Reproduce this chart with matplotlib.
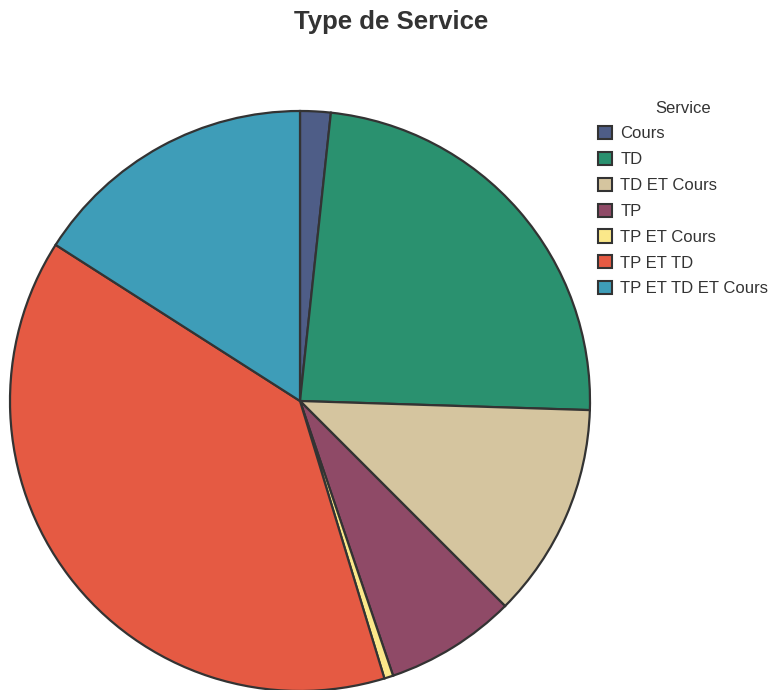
import matplotlib.pyplot as plt
from matplotlib.patches import Patch

labels = ['Cours', 'TD', 'TD ET Cours', 'TP', 'TP ET Cours', 'TP ET TD', 'TP ET TD ET Cours']
values = [1.7, 23.8, 12.0, 7.3, 0.5, 38.75, 15.95]
colors = ['#4e5d87', '#2a916f', '#d5c59f', '#8f4a67', '#fbe88a', '#e55a43', '#3e9db8']

plt.rcParams['font.family'] = ['Liberation Sans', 'DejaVu Sans']

fig = plt.figure(figsize=(7.75, 6.9), dpi=100)
W, H = 775, 690
cx, cy, r = 300, 401, 290
ax = fig.add_axes([(cx - r) / W, (H - cy - r) / H, 2 * r / W, 2 * r / H])
ax.pie(values, colors=colors, startangle=90, counterclock=False, radius=1,
       wedgeprops=dict(edgecolor='#333333', linewidth=1.6))
ax.set_xlim(-1, 1)
ax.set_ylim(-1, 1)
ax.set_aspect('equal')
ax.axis('off')

fig.text(391 / W, 1 - 22 / H, 'Type de Service', ha='center', va='center',
         fontsize=18.5, fontweight='bold', color='#333333')

handles = [Patch(facecolor=c, edgecolor='#333333', linewidth=1.5) for c in colors]
leg = fig.legend(handles, labels, title='Service', loc='upper left',
                 bbox_to_anchor=(591 / W, 1 - 94 / H), frameon=False,
                 fontsize=12.0, title_fontsize=12.0, handlelength=0.83, handleheight=0.83,
                 handletextpad=0.52, labelspacing=0.63, borderaxespad=0)
for t in leg.get_texts():
    t.set_color('#333333')
leg.get_title().set_color('#333333')

fig.savefig('out.png', dpi=100)
